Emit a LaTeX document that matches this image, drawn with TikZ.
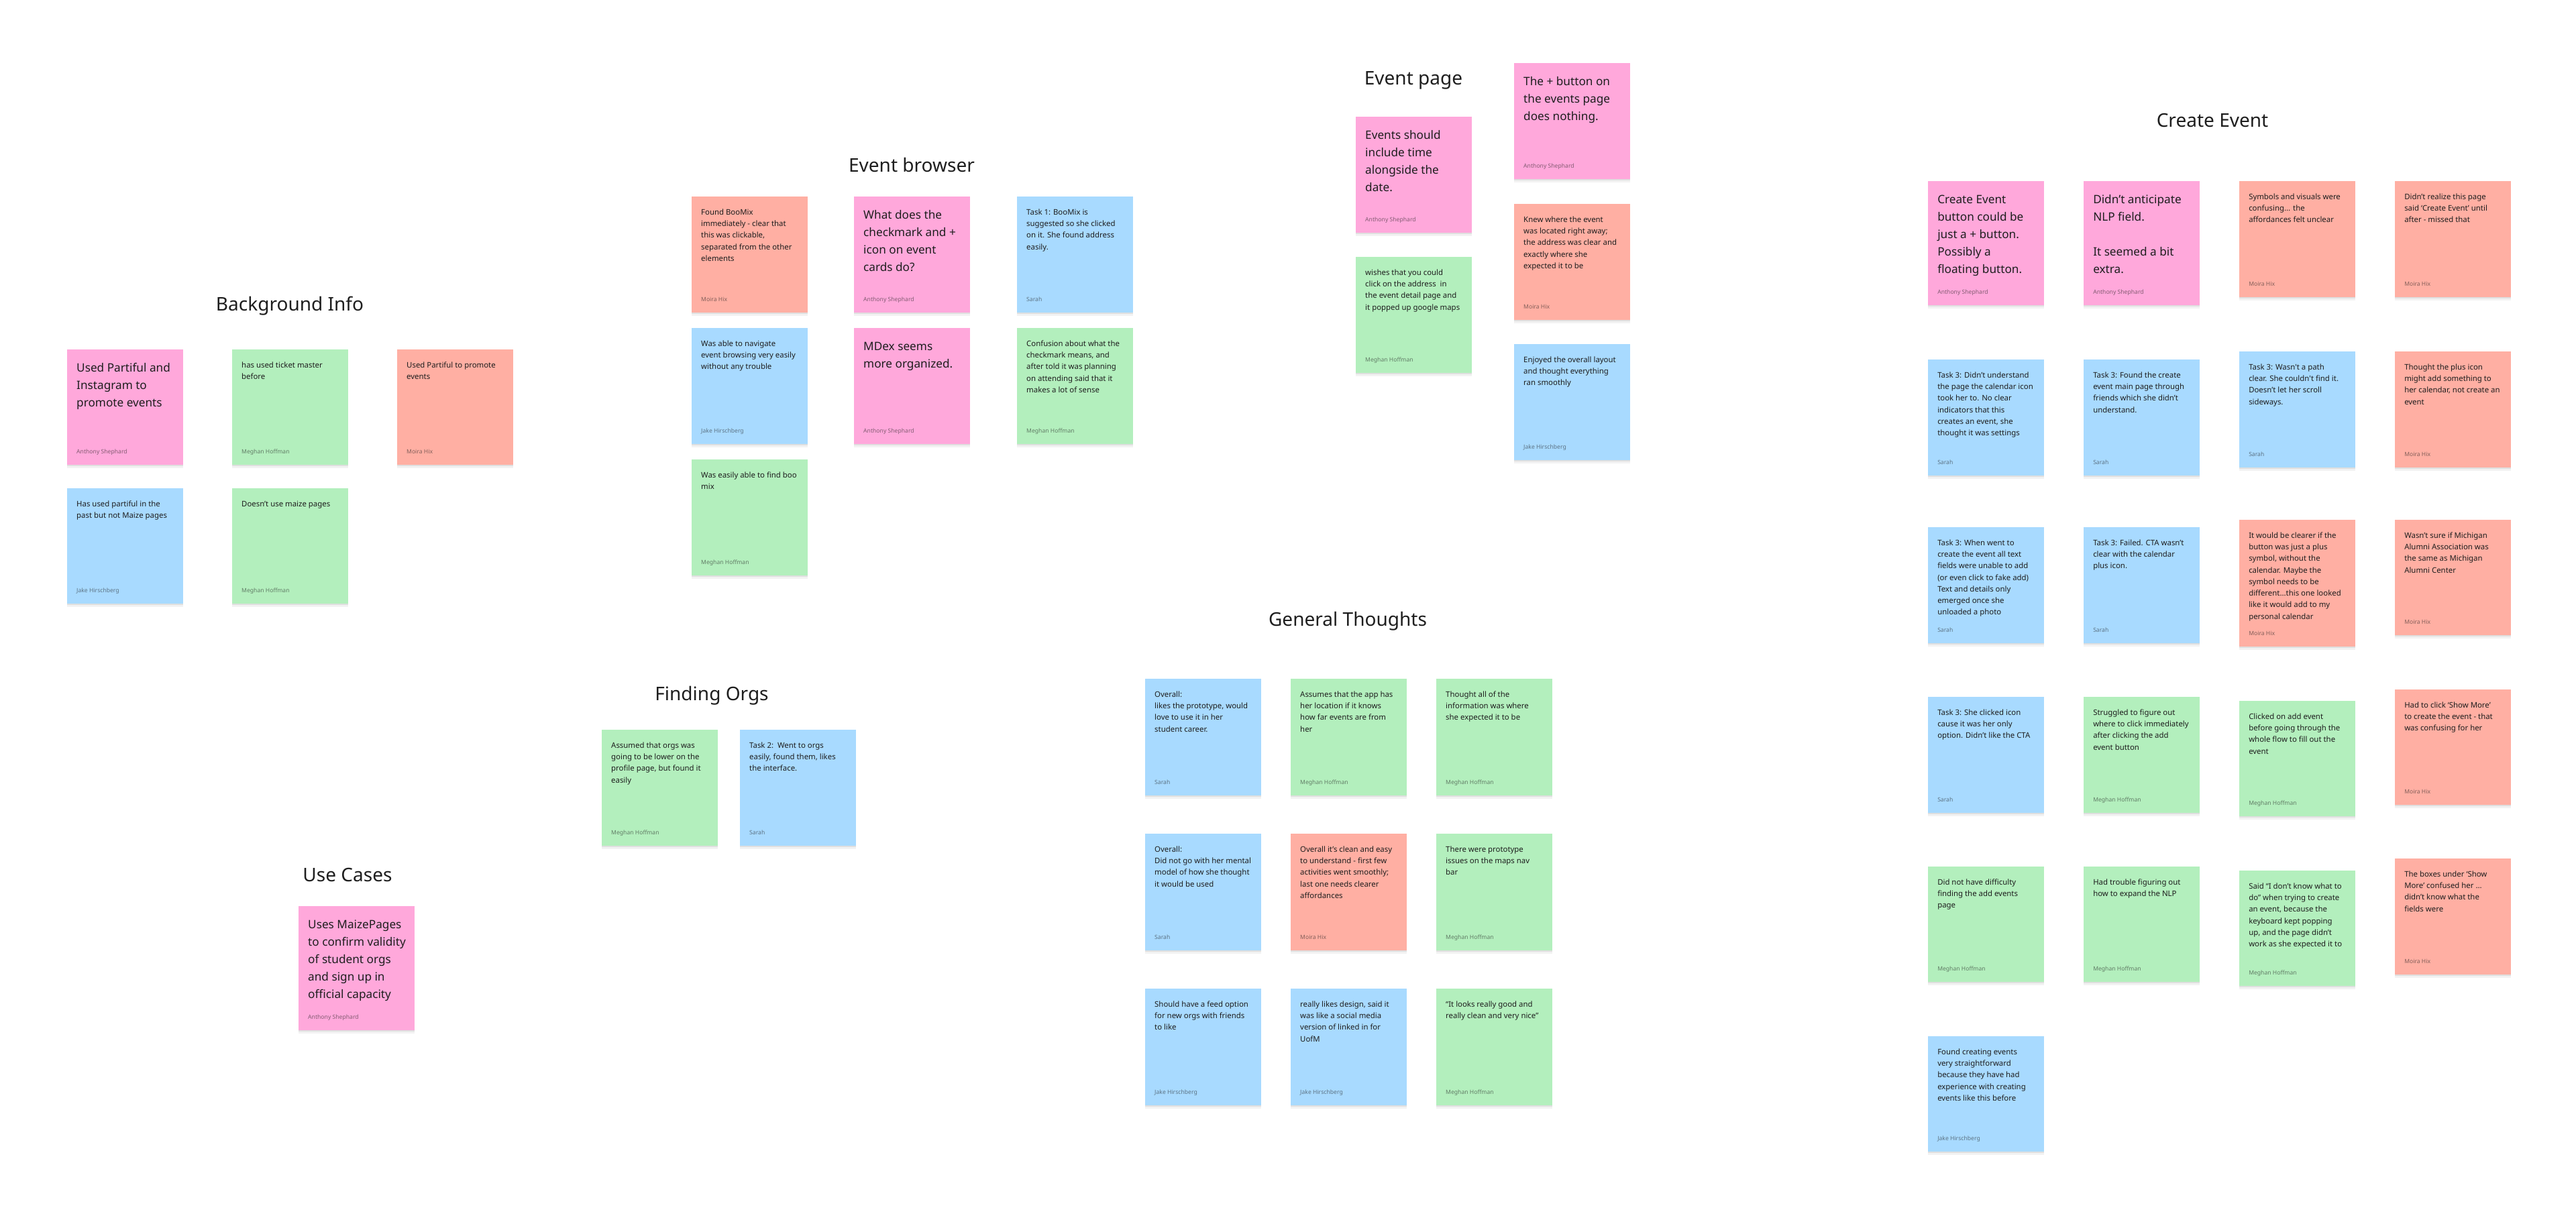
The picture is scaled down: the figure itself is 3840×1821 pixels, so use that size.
\documentclass[tikz,border=0pt]{standalone}
\usepackage{fontspec}
\setmainfont{Noto Sans}
\usetikzlibrary{calc,shadows}
\definecolor{pinkN}{HTML}{FFA8DB}
\definecolor{greenN}{HTML}{B3EFBD}
\definecolor{blueN}{HTML}{A8DAFF}
\definecolor{redN}{HTML}{FFAFA3}
\definecolor{ink}{HTML}{1E1E1E}
\newcommand{\firststrut}{\rule{0pt}{0.9em}}
\tikzset{
  sticky/.style={rectangle, anchor=north west, inner sep=0pt, minimum width=1.73cm,
    general shadow={shadow yshift=-1.4pt, opacity=.05, fill=black},
    general shadow={shadow yshift=-0.6pt, opacity=.08, fill=black}},
  smalltxt/.style={anchor=north west, align=left, inner sep=0pt, text=ink,
    font=\fontsize{3.24pt}{4.92pt}\selectfont},
  bigtxt/.style={anchor=north west, align=left, inner sep=0pt, text=ink,
    font=\fontsize{4.89pt}{7.40pt}\selectfont},
  authortxt/.style={anchor=base west, inner sep=0pt, text=ink, text opacity=.55,
    font=\fontsize{2.45pt}{3pt}\selectfont},
  titletxt/.style={anchor=base, inner sep=0pt, text=ink,
    font=\fontsize{7.97pt}{9pt}\selectfont}
}
% name, x, y, height, colour, text, author
\newcommand{\smallnote}[7]{%
  \node[sticky, fill=#5, minimum height=#4*0.1mm] (#1) at (#2,#3) {};
  \node[smalltxt] (#1t) at ($(#1.north west)+(14.5,17.2)$) {\firststrut#6};
  \node[authortxt] (#1a) at ($(#1.south west)+(14.5,-17.5)$) {#7};
}
\newcommand{\bignote}[7]{%
  \node[sticky, fill=#5, minimum height=#4*0.1mm] (#1) at (#2,#3) {};
  \node[bigtxt] (#1t) at ($(#1.north west)+(14.5,18.5)$) {\firststrut#6};
  \node[authortxt] (#1a) at ($(#1.south west)+(14.5,-17.5)$) {#7};
}
\begin{document}
\begin{tikzpicture}[x=0.01cm,y=-0.01cm]
\useasboundingbox (0,0) rectangle (3840,1821);
\fill[white] (0,0) rectangle (3840,1821);

% ---------- titles ----------
\node[titletxt] (tBI) at (432,463) {Background Info};
\node[titletxt] (tFO) at (1061,1044) {Finding Orgs};
\node[titletxt] (tUC) at (518,1314) {Use Cases};
\node[titletxt] (tEB) at (1359,256) {Event browser};
\node[titletxt] (tEP) at (2107,126) {Event page};
\node[titletxt] (tGT) at (2009,933) {General Thoughts};
\node[titletxt] (tCE) at (3298,189) {Create Event};

% ---------- Background Info ----------
\bignote{b1}{99}{520}{172}{pinkN}{Used Partiful and\\Instagram to\\promote events}{Anthony Shephard}
\smallnote{b2}{345}{520}{172}{greenN}{has used ticket master\\before}{Meghan Hoffman}
\smallnote{b3}{591}{520}{172}{redN}{Used Partiful to promote\\events}{Moira Hix}
\smallnote{b4}{99}{727}{172}{blueN}{Has used partiful in the\\past but not Maize pages}{Jake Hirschberg}
\smallnote{b5}{345}{727}{172}{greenN}{Doesn’t use maize pages}{Meghan Hoffman}

% ---------- Use Cases ----------
\bignote{u1}{444}{1350}{185}{pinkN}{Uses MaizePages\\to confirm validity\\of student orgs\\and sign up in\\official capacity}{Anthony Shephard}

% ---------- Finding Orgs ----------
\smallnote{f1}{896}{1087}{173}{greenN}{Assumed that orgs was\\going to be lower on the\\profile page, but found it\\easily}{Meghan Hoffman}
\smallnote{f2}{1102}{1087}{173}{blueN}{Task 2:\ \ Went to orgs\\easily, found them, likes\\the interface.}{Sarah}

% ---------- Event browser ----------
\smallnote{e1}{1030}{292}{173}{redN}{Found BooMix\\immediately - clear that\\this was clickable,\\separated from the other\\elements}{Moira Hix}
\bignote{e2}{1272}{292}{173}{pinkN}{What does the\\checkmark and +\\icon on event\\cards do?}{Anthony Shephard}
\smallnote{e3}{1515}{292}{173}{blueN}{Task 1: BooMix is\\suggested so she clicked\\on it. She found address\\easily.}{Sarah}
\smallnote{e4}{1030}{488}{173}{blueN}{Was able to navigate\\event browsing very easily\\without any trouble}{Jake Hirschberg}
\bignote{e5}{1272}{488}{173}{pinkN}{MDex seems\\more organized.}{Anthony Shephard}
\smallnote{e6}{1515}{488}{173}{greenN}{Confusion about what the\\checkmark means, and\\after told it was planning\\on attending said that it\\makes a lot of sense}{Meghan Hoffman}
\smallnote{e7}{1030}{684}{173}{greenN}{Was easily able to find boo\\mix}{Meghan Hoffman}

% ---------- Event page ----------
\bignote{p1}{2020}{173}{173}{pinkN}{Events should\\include time\\alongside the\\date.}{Anthony Shephard}
\smallnote{p2}{2020}{382}{173}{greenN}{wishes that you could\\click on the address\ \ in\\the event detail page and\\it popped up google maps}{Meghan Hoffman}
\bignote{p3}{2256}{93}{173}{pinkN}{The + button on\\the events page\\does nothing.}{Anthony Shephard}
\smallnote{p4}{2256}{303}{173}{redN}{Knew where the event\\was located right away;\\the address was clear and\\exactly where she\\expected it to be}{Moira Hix}
\smallnote{p5}{2256}{512}{173}{blueN}{Enjoyed the overall layout\\and thought everything\\ran smoothly}{Jake Hirschberg}

% ---------- General Thoughts ----------
\smallnote{g1}{1706}{1011}{174}{blueN}{Overall:\\likes the prototype, would\\love to use it in her\\student career.}{Sarah}
\smallnote{g2}{1923}{1011}{174}{greenN}{Assumes that the app has\\her location if it knows\\how far events are from\\her}{Meghan Hoffman}
\smallnote{g3}{2140}{1011}{174}{greenN}{Thought all of the\\information was where\\she expected it to be}{Meghan Hoffman}
\smallnote{g4}{1706}{1242}{174}{blueN}{Overall:\\Did not go with her mental\\model of how she thought\\it would be used}{Sarah}
\smallnote{g5}{1923}{1242}{174}{redN}{Overall it’s clean and easy\\to understand - first few\\activities went smoothly;\\last one needs clearer\\affordances}{Moira Hix}
\smallnote{g6}{2140}{1242}{174}{greenN}{There were prototype\\issues on the maps nav\\bar}{Meghan Hoffman}
\smallnote{g7}{1706}{1473}{174}{blueN}{Should have a feed option\\for new orgs with friends\\to like}{Jake Hirschberg}
\smallnote{g8}{1923}{1473}{174}{blueN}{really likes design, said it\\was like a social media\\version of linked in for\\UofM}{Jake Hirschberg}
\smallnote{g9}{2140}{1473}{174}{greenN}{“It looks really good and\\really clean and very nice”}{Meghan Hoffman}

% ---------- Create Event ----------
\bignote{c1}{2873}{269}{185}{pinkN}{Create Event\\button could be\\just a + button.\\Possibly a\\floating button.}{Anthony Shephard}
\bignote{c2}{3105}{269}{185}{pinkN}{Didn’t anticipate\\NLP field.\\[7.4pt]It seemed a bit\\extra.}{Anthony Shephard}
\smallnote{c3}{3337}{269}{173}{redN}{Symbols and visuals were\\confusing... the\\affordances felt unclear}{Moira Hix}
\smallnote{c4}{3569}{269}{173}{redN}{Didn’t realize this page\\said ‘Create Event’ until\\after - missed that}{Moira Hix}

\smallnote{c5}{2873}{535}{173}{blueN}{Task 3: Didn’t understand\\the page the calendar icon\\took her to. No clear\\indicators that this\\creates an event, she\\thought it was settings}{Sarah}
\smallnote{c6}{3105}{535}{173}{blueN}{Task 3: Found the create\\event main page through\\friends which she didn’t\\understand.}{Sarah}
\smallnote{c7}{3337}{523}{173}{blueN}{Task 3: Wasn\textquotesingle t a path\\clear. She couldn\textquotesingle t find it.\\Doesn’t let her scroll\\sideways.}{Sarah}
\smallnote{c8}{3569}{523}{173}{redN}{Thought the plus icon\\might add something to\\her calendar, not create an\\event}{Moira Hix}

\smallnote{c9}{2873}{785}{173}{blueN}{Task 3: When went to\\create the event all text\\fields were unable to add\\(or even click to fake add)\\Text and details only\\emerged once she\\unloaded a photo}{Sarah}
\smallnote{c10}{3105}{785}{173}{blueN}{Task 3: Failed. CTA wasn’t\\clear with the calendar\\plus icon.}{Sarah}
\smallnote{c11}{3337}{774}{189}{redN}{It would be clearer if the\\button was just a plus\\symbol, without the\\calendar. Maybe the\\symbol needs to be\\different...this one looked\\like it would add to my\\personal calendar}{Moira Hix}
\smallnote{c12}{3569}{774}{172}{redN}{Wasn’t sure if Michigan\\Alumni Association was\\the same as Michigan\\Alumni Center}{Moira Hix}

\smallnote{c13}{2873}{1038}{173}{blueN}{Task 3: She clicked icon\\cause it was her only\\option. Didn’t like the CTA}{Sarah}
\smallnote{c14}{3105}{1038}{173}{greenN}{Struggled to figure out\\where to click immediately\\after clicking the add\\event button}{Meghan Hoffman}
\smallnote{c15}{3337}{1044}{172}{greenN}{Clicked on add event\\before going through the\\whole flow to fill out the\\event}{Meghan Hoffman}
\smallnote{c16}{3569}{1027}{172}{redN}{Had to click ‘Show More’\\to create the event - that\\was confusing for her}{Moira Hix}

\smallnote{c17}{2873}{1291}{172}{greenN}{Did not have difficulty\\finding the add events\\page}{Meghan Hoffman}
\smallnote{c18}{3105}{1291}{172}{greenN}{Had trouble figuring out\\how to expand the NLP}{Meghan Hoffman}
\smallnote{c19}{3337}{1297}{172}{greenN}{Said “I don’t know what to\\do” when trying to create\\an event, because the\\keyboard kept popping\\up, and the page didn’t\\work as she expected it to}{Meghan Hoffman}
\smallnote{c20}{3569}{1279}{173}{redN}{The boxes under ‘Show\\More’ confused her ...\\didn’t know what the\\fields were}{Moira Hix}

\smallnote{c21}{2873}{1544}{172}{blueN}{Found creating events\\very straightforward\\because they have had\\experience with creating\\events like this before}{Jake Hirschberg}
\end{tikzpicture}
\end{document}
